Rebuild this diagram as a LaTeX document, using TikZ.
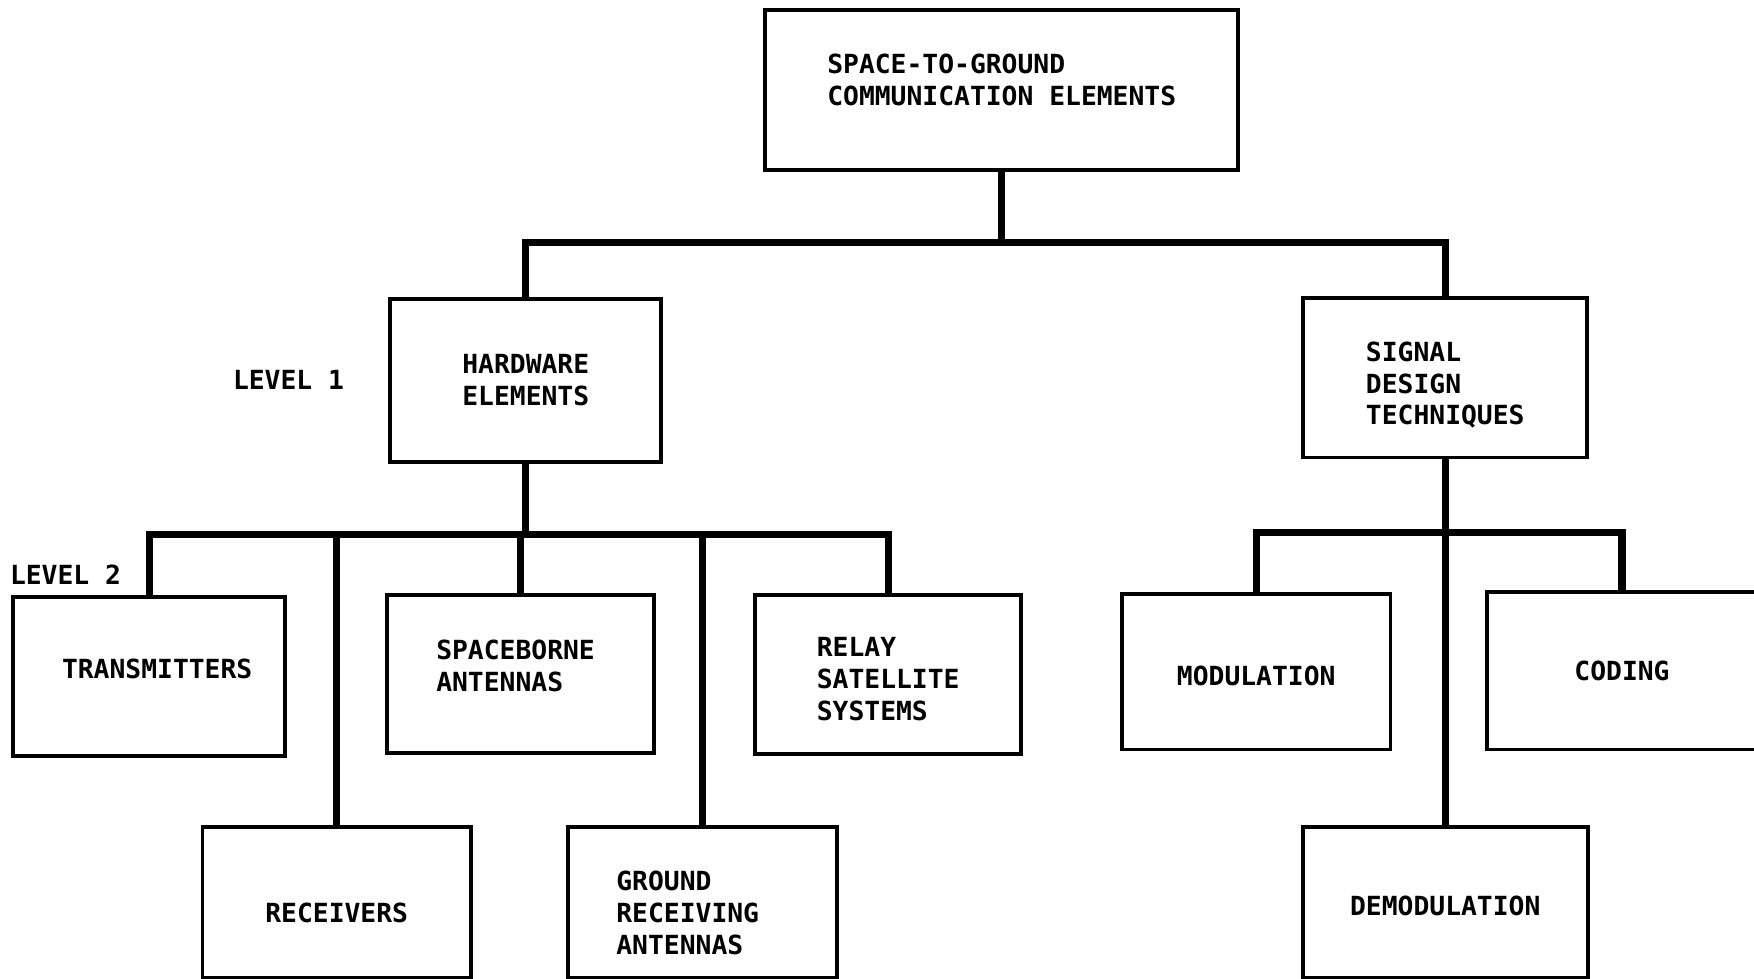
\documentclass[tikz,border=0pt]{standalone}
\usepackage{fontspec}
\setmainfont{DejaVu Sans Mono}
\usetikzlibrary{positioning, calc}

\begin{document}
\begin{tikzpicture}[
		font=\bfseries\fontsize{6.7}{8.1}\selectfont,
		% Styles
		elementBox/.style={draw=black, line width=1pt, minimum width=#1, minimum height=1.42cm, align=left, inner sep=2pt},
		elementBox/.default=2.4cm,
		lowBox/.style={elementBox=#1, minimum height=1.35cm, text height=0.37cm},
		lowBox/.default=2.4cm,
		linkLine/.style={draw=black, line width=1.8pt},
		levelLabel/.style={inner sep=0pt, anchor=south west}
		]
		
		\useasboundingbox (0, 0) rectangle (15.68, -8.75);
		\clip (0, 0) rectangle (15.68, -8.75);
		
		% =========================================================
		% 1. TOP ELEMENT
		% =========================================================
		\node[elementBox=4.23cm, minimum height=1.43cm, text depth=0.19cm] (Top) at (8.955, -0.805) {SPACE-TO-GROUND\\COMMUNICATION ELEMENTS};
		
		% =========================================================
		% 2. LEVEL 1
		% =========================================================
		\node[elementBox=2.42cm, minimum height=1.46cm] (Hardware) at (4.70, -3.40) {HARDWARE\\ELEMENTS};
		\node[elementBox=2.54cm, minimum height=1.43cm, text height=0.88cm] (Signal) at (12.92, -3.375) {SIGNAL\\DESIGN\\TECHNIQUES};
		
		\node[inner sep=0pt, left=0.39cm of Hardware] (LevelOne) {LEVEL 1};
		
		% =========================================================
		% 3. LEVEL 2 (hardware side)
		% =========================================================
		\node[elementBox=2.43cm, text depth=0.14cm] (Transmitters) at (1.335, -6.05) {\hspace*{0.14cm}TRANSMITTERS};
		\node[elementBox=2.39cm, minimum height=1.41cm, text depth=0.425cm, text width=1.51cm] (Spaceborne) at (4.655, -6.025) {SPACEBORNE\\ANTENNAS};
		\node[elementBox=2.38cm, text height=0.82cm] (Relay) at (7.94, -6.03) {RELAY\\SATELLITE\\SYSTEMS};
		\node[lowBox] (Receivers) at (3.01, -8.065) {RECEIVERS};
		\node[lowBox, text width=1.54cm] (Ground) at (6.28, -8.065) {GROUND\\RECEIVING\\ANTENNAS};
		
		\node[levelLabel] (LevelTwo) at ($(Transmitters.north west)+(-0.02, 0.09)$) {LEVEL 2};
		
		% =========================================================
		% 4. LEVEL 2 (signal side)
		% =========================================================
		\node[elementBox=2.40cm, minimum height=1.39cm, text height=0.25cm] (Modulation) at (11.23, -6.005) {MODULATION};
		\node[elementBox=2.42cm, minimum height=1.41cm] (Coding) at (14.50, -5.995) {CODING};
		\node[lowBox=2.55cm, text height=0.25cm] (Demodulation) at (12.92, -8.065) {DEMODULATION};
		
		% =========================================================
		% 5. CONNECTORS
		% =========================================================
		\coordinate (TopBus) at ($(Top.south)+(0, -0.63)$);
		\draw[linkLine] (Top.south) -- (TopBus);
		\draw[linkLine] (TopBus) -| (Hardware.north);
		\draw[linkLine] (TopBus) -| (Signal.north);
		
		\coordinate (HardwareBus) at ($(Hardware.south)+(0, -0.63)$);
		\draw[linkLine] (Hardware.south) -- (HardwareBus);
		\foreach \child in {Transmitters, Receivers, Spaceborne, Ground, Relay}
		\draw[linkLine] (HardwareBus) -| (\child.north);
		
		\coordinate (SignalBus) at ($(Signal.south)+(0, -0.65)$);
		\draw[linkLine] (Signal.south) -- (Demodulation.north);
		\draw[linkLine] (SignalBus) -| (Modulation.north);
		\draw[linkLine] (SignalBus) -| (Coding.north);
		
	\end{tikzpicture}
\end{document}
